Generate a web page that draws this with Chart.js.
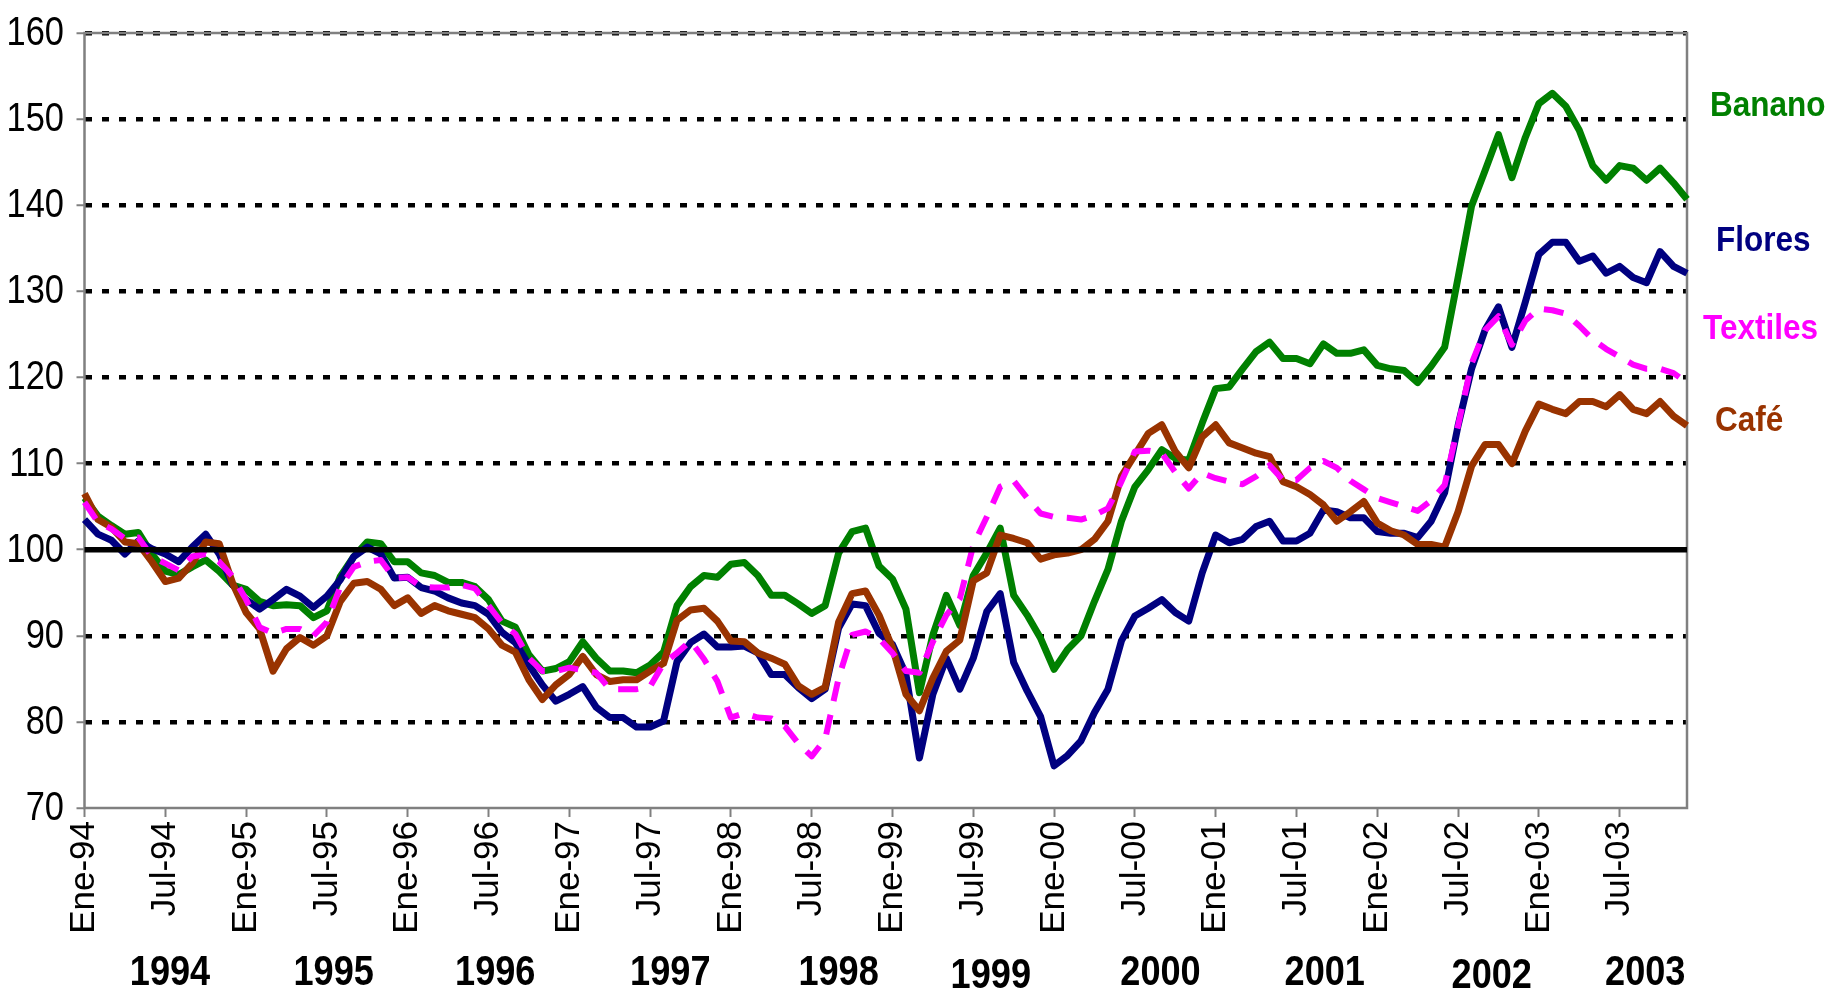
<!DOCTYPE html>
<html>
<head>
<meta charset="utf-8">
<script src="https://cdn.jsdelivr.net/npm/chart.js@4.4.1/dist/chart.umd.min.js"></script>
<style>
html,body{margin:0;padding:0;background:#fff;}
#wrap{width:1839px;height:991px;position:relative;}
</style>
</head>
<body>
<div id="wrap"><canvas id="c"></canvas></div>
<script>
// ---------- DATA ----------
const monthNames = ['Ene','Feb','Mar','Abr','May','Jun','Jul','Ago','Sep','Oct','Nov','Dic'];
const yearSuffixes = ['94','95','96','97','98','99','00','01','02','03'];
const yearLabels = ['1994','1995','1996','1997','1998','1999','2000','2001','2002','2003'];
const seriesNames = ['Banano','Flores','Textiles','Café'];

const banano = [
106.0,103.9,102.8,101.8,102.0,99.5,97.5,97.1,98.0,98.8,97.5,95.9,
95.4,94.0,93.5,93.6,93.5,92.1,92.9,96.9,99.2,100.9,100.7,98.6,
98.6,97.3,97.0,96.2,96.2,95.7,94.2,91.7,91.0,87.8,85.9,86.2,
87.0,89.3,87.4,85.9,85.9,85.7,86.6,88.1,93.5,95.7,97.0,96.8,
98.3,98.5,97.0,94.7,94.7,93.7,92.6,93.5,99.6,102.1,102.5,98.1,
96.6,93.1,83.4,90.1,94.7,91.2,97.0,99.6,102.5,94.7,92.4,89.7,
86.1,88.4,90.0,94.0,97.7,103.3,107.3,109.3,111.6,110.6,110.4,114.7,
118.7,118.9,121.0,123.0,124.1,122.2,122.2,121.6,123.9,122.8,122.8,123.2,
121.4,121.0,120.8,119.4,121.3,123.5,131.6,139.9,144.0,148.2,143.2,147.9,
151.8,153.0,151.5,148.7,144.6,142.9,144.6,144.3,142.9,144.3,142.6,140.7
];
const flores = [
103.5,101.8,101.1,99.5,101.0,100.1,99.5,98.6,100.3,101.8,99.5,95.9,
94.2,93.1,94.2,95.4,94.6,93.3,94.6,96.5,99.2,100.3,99.5,96.7,
96.8,95.6,95.2,94.4,93.8,93.5,92.5,90.4,89.2,86.6,84.3,82.4,
83.2,84.1,81.7,80.5,80.5,79.4,79.4,80.1,87.0,89.2,90.2,88.7,
88.7,88.8,88.0,85.5,85.5,84.0,82.7,83.8,90.9,93.7,93.5,90.3,
89.0,85.5,75.8,83.2,87.4,83.8,87.4,92.8,94.9,86.9,83.6,80.6,
74.9,76.1,77.8,81.1,83.8,89.4,92.3,93.2,94.2,92.7,91.7,97.3,
101.7,100.8,101.2,102.7,103.3,101.0,101.0,101.9,104.6,104.4,103.7,103.7,
102.1,101.9,101.9,101.4,103.3,106.6,114.4,121.0,125.5,128.2,123.5,128.8,
134.3,135.7,135.7,133.5,134.1,132.1,132.9,131.6,131.0,134.6,132.9,132.1
];
const textiles = [
105.5,103.2,102.4,101.3,101.4,99.2,98.4,97.6,99.2,99.5,98.6,96.9,
94.2,91.0,90.3,90.8,90.8,90.0,91.6,95.7,98.0,98.6,98.8,96.7,
96.8,95.7,95.6,95.6,95.9,95.5,93.5,91.5,90.2,87.4,85.9,85.9,
86.3,86.0,85.7,83.8,83.8,83.8,84.1,86.8,88.0,89.4,87.3,84.7,
80.5,81.0,80.5,80.4,79.5,77.5,76.0,78.0,85.1,90.1,90.5,89.7,
88.0,85.9,85.7,89.3,92.4,94.3,100.5,103.8,107.3,108.0,106.0,104.2,
103.8,103.7,103.5,104.0,104.8,107.9,111.4,111.5,111.2,109.0,107.1,108.9,
108.3,107.9,107.6,108.5,109.8,108.1,108.1,109.5,110.3,109.5,108.0,107.0,
106.0,105.5,105.0,104.5,105.7,107.5,114.4,121.6,125.5,127.1,123.8,126.6,
128.0,127.8,127.4,126.0,124.4,123.3,122.4,121.5,121.0,121.0,120.5,119.4
];
const cafe = [
106.5,103.5,102.6,100.9,100.7,98.6,96.3,96.7,98.4,100.9,100.7,96.1,
92.7,90.8,85.9,88.5,89.8,88.9,90.0,94.0,96.1,96.3,95.4,93.5,
94.4,92.6,93.5,92.9,92.5,92.1,90.8,88.9,88.1,84.9,82.6,84.3,
85.5,87.6,85.5,84.7,84.9,84.9,85.9,86.8,91.8,93.0,93.2,91.7,
89.4,89.3,88.0,87.4,86.7,84.2,83.2,84.0,91.6,94.9,95.2,92.4,
88.6,83.2,81.3,85.1,88.2,89.5,96.4,97.3,101.7,101.3,100.8,98.9,
99.4,99.6,100.0,101.2,103.3,108.5,111.0,113.5,114.5,111.4,109.5,113.1,
114.5,112.4,111.8,111.2,110.8,107.9,107.3,106.4,105.2,103.3,104.4,105.6,
103.1,102.2,101.7,100.6,100.6,100.3,104.4,109.7,112.2,112.2,110.0,113.8,
116.9,116.3,115.8,117.2,117.2,116.6,118.0,116.3,115.8,117.2,115.5,114.4
];
const baseValue = 100;
const yMin = 70, yMax = 160, yStep = 10;

// category labels (Ene-94 ... Dic-03)
const categories = [];
yearSuffixes.forEach(y => monthNames.forEach(m => categories.push(m + '-' + y)));

// ---------- LAYOUT / STYLE ----------
const FONT = "'Liberation Sans', Arial, Helvetica, sans-serif";
const colors = { banano:'#008000', flores:'#000080', textiles:'#FF00FF', cafe:'#993300' };
const yearLabelPos = [6.35,18.5,30.5,43.5,56,67.3,79.9,92.1,104.5,115.9];
const yearLabelDy  = [0,0,0,0,0,3,0,0,3,0];
const sideLabels = [
  {text:'Banano',   color:colors.banano,   x:1710, y:106},
  {text:'Flores',   color:colors.flores,   x:1716, y:241},
  {text:'Textiles', color:colors.textiles, x:1703, y:329},
  {text:'Café',     color:colors.cafe,     x:1715, y:421}
];

const framePlugin = {
  id:'frame',
  beforeDatasetsDraw(chart){
    const {ctx, chartArea:a} = chart;
    ctx.save();
    ctx.strokeStyle = '#808080';
    ctx.lineWidth = 2.5;
    ctx.strokeRect(a.left, a.top, a.right - a.left, a.bottom - a.top);
    ctx.restore();
  },
  afterDatasetsDraw(chart){
    const {ctx, chartArea:a, scales} = chart;
    const y = scales.y.getPixelForValue(baseValue);
    ctx.save();
    ctx.strokeStyle = '#000';
    ctx.lineWidth = 5.5;
    ctx.beginPath();
    ctx.moveTo(a.left, y);
    ctx.lineTo(a.right, y);
    ctx.stroke();
    ctx.restore();
  },
  afterDraw(chart){
    const {ctx, scales} = chart;
    ctx.save();
    ctx.fillStyle = '#000';
    // y-axis tick labels (condensed Arial look)
    ctx.textAlign = 'right';
    ctx.textBaseline = 'middle';
    scales.y.ticks.forEach(t => {
      const y = scales.y.getPixelForValue(t.value);
      ctx.save();
      ctx.translate(64, y + 1);
      ctx.scale(0.86, 1);
      ctx.font = "40px " + FONT;
      ctx.fillText(String(t.value), 0, 0);
      ctx.restore();
    });
    // year labels
    ctx.textAlign = 'center';
    yearLabels.forEach((t,i) => {
      const x = scales.x.getPixelForValue(yearLabelPos[i]);
      const y = 973 + yearLabelDy[i];
      ctx.save();
      ctx.translate(x, y);
      ctx.scale(0.86, 1);
      ctx.font = "bold 42px " + FONT;
      ctx.fillText(t, 0, 0);
      ctx.restore();
    });
    // series labels at right
    ctx.textAlign = 'left';
    sideLabels.forEach(l => {
      ctx.save();
      ctx.translate(l.x, l.y);
      ctx.scale(0.9, 1);
      ctx.font = "bold 35px " + FONT;
      ctx.fillStyle = l.color;
      ctx.fillText(l.text, 0, 0);
      ctx.restore();
    });
    ctx.restore();
  }
};

function ds(label, data, color, order, width, dash){
  return {
    label, data, order,
    borderColor: color, backgroundColor: color,
    borderWidth: width, borderDash: dash || [],
    borderCapStyle: 'butt', borderJoinStyle: 'round',
    pointRadius: 0, pointHoverRadius: 0, tension: 0, fill: false
  };
}

new Chart(document.getElementById('c'), {
  type: 'line',
  data: {
    labels: categories,
    datasets: [
      ds(seriesNames[0], banano,   colors.banano,   4, 7),
      ds(seriesNames[1], flores,   colors.flores,   3, 7),
      ds(seriesNames[3], cafe,     colors.cafe,     2, 7),
      ds(seriesNames[2], textiles, colors.textiles, 1, 6, [20, 14])
    ]
  },
  options: {
    responsive: true,
    maintainAspectRatio: false,
    animation: false,
    events: [],
    layout: { padding: { top: 20, right: 152, bottom: 0, left: 0 } },
    plugins: { legend: { display: false }, tooltip: { enabled: false } },
    scales: {
      x: {
        type: 'category',
        offset: false,
        afterFit(scale){ scale.height = 183; },
        grid: {
          drawOnChartArea: false,
          drawTicks: true,
          tickLength: 9,
          tickWidth: 2,
          tickColor: (c) => (c.index % 6 === 0 ? '#808080' : 'rgba(0,0,0,0)'),
          color: 'rgba(0,0,0,0)'
        },
        border: { display: false },
        ticks: {
          autoSkip: false,
          maxRotation: 90,
          minRotation: 90,
          padding: 4,
          color: '#000',
          font: { family: FONT, size: 35 },
          callback: (v, i) => (i % 6 === 0 ? categories[i] : '')
        }
      },
      y: {
        min: yMin, max: yMax,
        afterFit(scale){ scale.width = 84.5; },
        grid: {
          color: (c) => (c.tick && (c.tick.value === yMin) ? 'rgba(0,0,0,0)' : '#000'),
          lineWidth: 4.5,
          drawTicks: true,
          tickLength: 8,
          tickWidth: 2,
          tickColor: '#808080'
        },
        border: { display: false, dash: [7, 10] },
        ticks: {
          stepSize: yStep,
          padding: 12,
          color: 'rgba(0,0,0,0)',
          font: { family: FONT, size: 35 }
        }
      }
    }
  },
  plugins: [framePlugin]
});
</script>
</body>
</html>
